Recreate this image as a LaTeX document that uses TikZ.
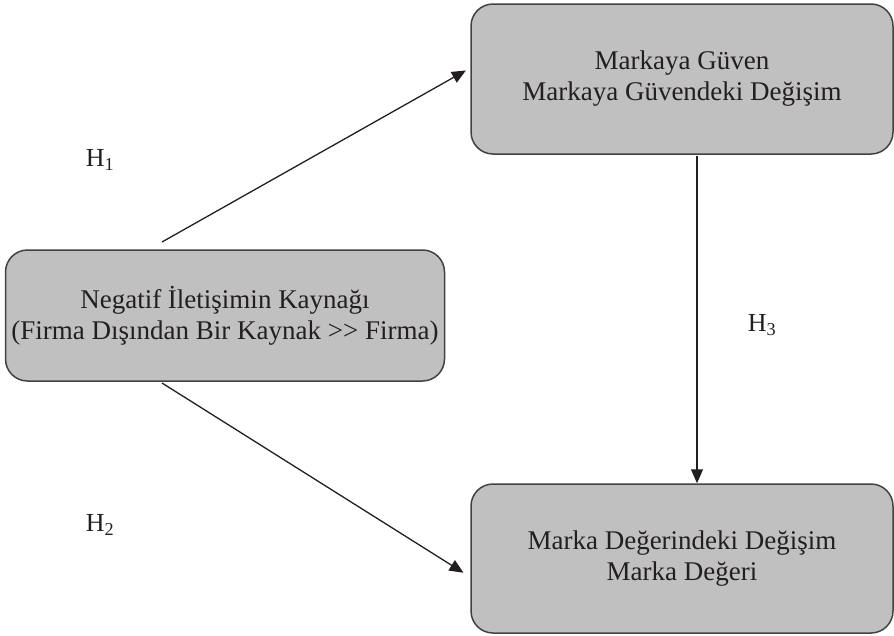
\documentclass[tikz,border=0pt]{standalone}
\usepackage{fontspec}
\setmainfont{Liberation Serif}
\usetikzlibrary{arrows.meta}
\definecolor{boxgray}{HTML}{C0C0C0}
\definecolor{ink}{HTML}{231F20}
\tikzset{
  construct/.style={draw=ink!85, fill=boxgray, line width=1.5pt, rounded corners=22pt,
    align=center, inner sep=0pt, text=ink, font=\fontsize{27}{31}\selectfont},
  link/.style={-{Triangle[length=14pt,width=12pt]}, line width=1.3pt, draw=ink},
  hyp/.style={text=ink, font=\fontsize{26}{28}\selectfont}
}
\begin{document}
\begin{tikzpicture}[x=1pt,y=-1pt]
      \useasboundingbox (0,0) rectangle (894,635);
      \node[construct, minimum width=439pt, minimum height=131pt] (source) at (225,315.5)
        {Negatif İletişimin Kaynağı\\(Firma Dışından Bir Kaynak >{}> Firma)};
      \node[construct, minimum width=422pt, minimum height=150pt] (trust) at (682,79)
        {Markaya Güven\\Markaya Güvendeki Değişim};
      \node[construct, minimum width=422pt, minimum height=149pt] (value) at (682,558.5)
        {Marka Değerindeki Değişim\\Marka Değeri};
      \node[hyp] (h1) at (100,160) {H\textsubscript{1}};
      \node[hyp] (h2) at (100,525) {H\textsubscript{2}};
      \node[hyp] (h3) at (762,325) {H\textsubscript{3}};
      \coordinate (s1) at (162,242);
      \coordinate (s2) at (162,383);
      \begin{scope}[link]
        \draw[shorten >=5pt] (s1) to ([yshift=11pt]trust.west);
        \draw[shorten >=8pt] (s2) to ([yshift=-18.5pt]value.west);
        \draw ([xshift=15pt,yshift=-1pt]trust.south) to ([xshift=15pt]value.north);
      \end{scope}
    \end{tikzpicture}
\end{document}
